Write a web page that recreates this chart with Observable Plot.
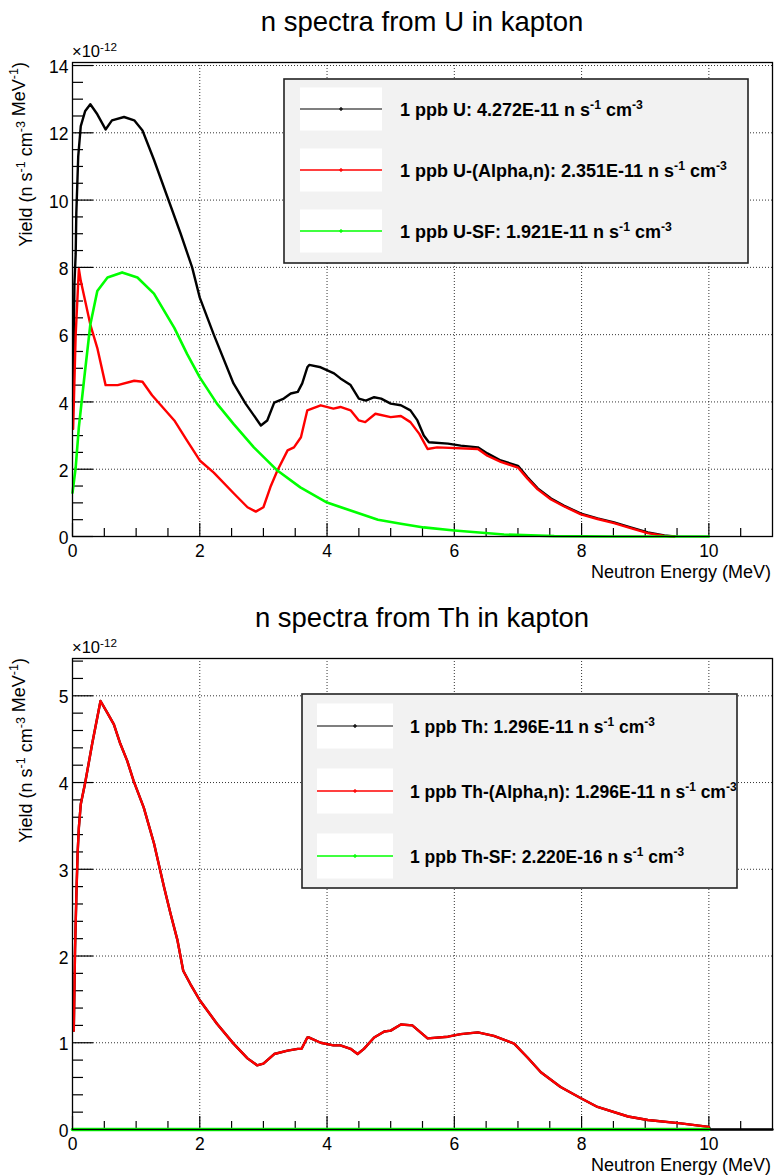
<!DOCTYPE html>
<html><head><meta charset="utf-8">
<script src="https://cdn.jsdelivr.net/npm/d3@7"></script>
<script src="https://cdn.jsdelivr.net/npm/@observablehq/plot@0.6"></script>
<style>
body{margin:0;background:#fff;font-family:"Liberation Sans",Arial,sans-serif;}
#wrap{width:774px;}
svg{display:block;}
</style></head><body><div id="wrap"></div>
<script>
// ---------- axis ticks ----------
const xMajor = [0, 2, 4, 6, 8, 10];
const xMinor = [0.5, 1, 1.5, 2.5, 3, 3.5, 4.5, 5, 5.5, 6.5, 7, 7.5, 8.5, 9, 9.5, 10.5];
const uYMajor = [0, 2, 4, 6, 8, 10, 12, 14];
const uYMinor = [0.5, 1, 1.5, 2.5, 3, 3.5, 4.5, 5, 5.5, 6.5, 7, 7.5, 8.5, 9, 9.5, 10.5, 11, 11.5, 12.5, 13, 13.5];
const thYMajor = [0, 1, 2, 3, 4, 5];
const thYMinor = [0.2, 0.4, 0.6, 0.8, 1.2, 1.4, 1.6, 1.8, 2.2, 2.4, 2.6, 2.8, 3.2, 3.4, 3.6, 3.8, 4.2, 4.4, 4.6, 4.8, 5.2, 5.4];

// ---------- U in kapton (values in 1e-12) ----------
const uTotalE = [0.01,0.03,0.05,0.06,0.09,0.13,0.2,0.28,0.39,0.52,0.62,0.81,0.97,1.1,1.28,1.49,1.7,1.88,2.0,2.22,2.53,2.72,2.96,3.06,3.17,3.32,3.43,3.54,3.61,3.69,3.72,3.9,4.11,4.21,4.37,4.5,4.61,4.74,4.85,5.0,5.16,5.31,5.42,5.52,5.6,5.9,6.1,6.37,6.52,6.73,7.0,7.15,7.31,7.52,7.72,7.99,8.25,8.51,8.77,9.04,9.3,9.46];
const uTotalY = [4.0,7.5,8.4,9.6,11.3,12.2,12.65,12.85,12.55,12.1,12.37,12.47,12.37,12.07,11.2,10.1,9.0,8.0,7.1,6.0,4.55,3.95,3.3,3.45,3.98,4.1,4.25,4.3,4.55,5.03,5.1,5.03,4.85,4.7,4.5,4.1,4.04,4.14,4.1,3.95,3.9,3.75,3.45,3.0,2.8,2.76,2.7,2.65,2.47,2.26,2.1,1.76,1.43,1.13,0.92,0.68,0.54,0.42,0.27,0.12,0.03,0];
const uAlphaE = [0.01,0.05,0.1,0.13,0.28,0.39,0.52,0.71,0.97,1.1,1.25,1.6,1.8,2.0,2.22,2.54,2.75,2.88,3.0,3.11,3.22,3.38,3.48,3.59,3.69,3.9,4.1,4.21,4.37,4.5,4.6,4.76,5.0,5.16,5.31,5.45,5.58,5.73,6.37,6.52,6.73,7.0,7.15,7.31,7.52,7.72,7.99,8.25,8.51,8.77,9.04,9.3,9.46];
const uAlphaY = [3.2,6.0,7.95,7.6,6.3,5.6,4.5,4.5,4.63,4.6,4.2,3.45,2.85,2.26,1.9,1.27,0.87,0.74,0.87,1.47,1.96,2.56,2.65,2.95,3.75,3.9,3.8,3.85,3.75,3.45,3.4,3.65,3.55,3.58,3.4,3.05,2.6,2.65,2.6,2.4,2.22,2.05,1.72,1.4,1.1,0.9,0.66,0.52,0.4,0.25,0.1,0.02,0];
const uSfE = [0,0.05,0.1,0.18,0.28,0.39,0.55,0.78,1.02,1.28,1.6,1.8,2.0,2.27,2.53,2.85,3.22,3.58,4.0,4.37,4.8,5.16,5.52,6.0,6.78,7.57,8.5,10.0];
const uSfY = [1.3,2.05,3.25,4.63,6.3,7.3,7.7,7.85,7.7,7.22,6.2,5.43,4.73,3.95,3.35,2.65,1.96,1.46,1.01,0.77,0.5,0.38,0.27,0.18,0.06,0.01,0,0];
const uLabels = ["1 ppb U: 4.272E-11", "1 ppb U-(Alpha,n): 2.351E-11", "1 ppb U-SF: 1.921E-11"];

// ---------- Th in kapton (values in 1e-12) ----------
const thTotalE = [0.02,0.03,0.04,0.05,0.06,0.08,0.1,0.13,0.2,0.31,0.44,0.55,0.65,0.75,0.86,0.96,1.12,1.28,1.44,1.54,1.65,1.74,1.85,2.0,2.27,2.53,2.75,2.9,3.0,3.17,3.38,3.54,3.6,3.69,3.72,3.9,4.1,4.21,4.37,4.48,4.58,4.74,4.9,5.0,5.16,5.34,5.58,5.9,6.1,6.37,6.62,6.94,7.15,7.36,7.67,7.99,8.25,8.73,9.04,9.56,10.0,10.02,11.0];
const thTotalY = [1.14,1.6,2.08,2.38,2.67,3.18,3.48,3.75,4.0,4.45,4.94,4.8,4.67,4.45,4.25,4.02,3.71,3.3,2.79,2.49,2.18,1.83,1.68,1.49,1.22,0.99,0.82,0.74,0.76,0.87,0.91,0.93,0.93,1.06,1.06,1.0,0.97,0.97,0.93,0.87,0.93,1.06,1.13,1.14,1.21,1.2,1.05,1.07,1.1,1.12,1.08,0.99,0.83,0.66,0.49,0.36,0.26,0.15,0.11,0.07,0.03,0,0];
const thAlphaE = [0.02,0.03,0.04,0.05,0.06,0.08,0.1,0.13,0.2,0.31,0.44,0.55,0.65,0.75,0.86,0.96,1.12,1.28,1.44,1.54,1.65,1.74,1.85,2.0,2.27,2.53,2.75,2.9,3.0,3.17,3.38,3.54,3.6,3.69,3.72,3.9,4.1,4.21,4.37,4.48,4.58,4.74,4.9,5.0,5.16,5.34,5.58,5.9,6.1,6.37,6.62,6.94,7.15,7.36,7.67,7.99,8.25,8.73,9.04,9.56,10.0];
const thAlphaY = [1.14,1.6,2.08,2.38,2.67,3.18,3.48,3.75,4.0,4.45,4.94,4.8,4.67,4.45,4.25,4.02,3.71,3.3,2.79,2.49,2.18,1.83,1.68,1.49,1.22,0.99,0.82,0.74,0.76,0.87,0.91,0.93,0.93,1.06,1.06,1.0,0.97,0.97,0.93,0.87,0.93,1.06,1.13,1.14,1.21,1.2,1.05,1.07,1.1,1.12,1.08,0.99,0.83,0.66,0.49,0.36,0.26,0.15,0.11,0.07,0.03];
const thSfE = [0, 2, 4, 6, 8, 10];
const thSfY = [0, 0, 0, 0, 0, 0];
const thLabels = ["1 ppb Th: 1.296E-11", "1 ppb Th-(Alpha,n): 1.296E-11", "1 ppb Th-SF: 2.220E-16"];

const colors = ["#000000", "#ff0000", "#00ff00"];
const FONT = '"Liberation Sans", Arial, Helvetica, sans-serif';

function sup(exp, size, shift) {
  return `<tspan dy="${-shift}" font-size="${size}">${exp}</tspan><tspan dy="${shift}">`;
}

function chart(cfg) {
  const W = 774, H = 588;
  const innerW = W - cfg.ml - cfg.mr, innerH = H - cfg.mt - cfg.mb;
  const grid = {stroke: "#000", strokeOpacity: 0.8, strokeDasharray: "1,2", strokeWidth: 1};
  const svg = Plot.plot({
    width: W, height: H,
    marginTop: cfg.mt, marginBottom: cfg.mb, marginLeft: cfg.ml, marginRight: cfg.mr,
    style: {fontFamily: FONT, background: "#fff", overflow: "visible"},
    x: {domain: [0, 11]},
    y: {domain: cfg.yDomain},
    marks: [
      Plot.gridX(xMajor, grid),
      Plot.gridY(cfg.yMajor, grid),
      Plot.tickY(cfg.yMajor, {insetRight: innerW - 21, stroke: "#000", strokeWidth: 1.2}),
      Plot.tickY(cfg.yMinor, {insetRight: innerW - 11, stroke: "#000", strokeWidth: 1.2}),
      Plot.tickX(xMajor, {insetTop: innerH - 13, stroke: "#000", strokeWidth: 1.2}),
      Plot.tickX(xMinor, {insetTop: innerH - 8, stroke: "#000", strokeWidth: 1.2}),
      Plot.axisX(xMajor, {tickSize: 0, tickPadding: 8, fontSize: 17.5, label: null, color: "#000", tickFormat: d => String(d)}),
      Plot.axisY(cfg.yMajor, {tickSize: 0, tickPadding: 4, fontSize: 17.5, label: null, color: "#000", tickFormat: d => String(d), dy: 2}),
      ...cfg.series.map((s, i) => Plot.line(s.e.map((e, j) => [e, s.v[j]]), {stroke: colors[i], strokeWidth: s.w})),
      Plot.frame({stroke: "#000", strokeWidth: 1.3})
    ]
  });
  const sel = d3.select(svg);
  const frameTop = cfg.mt, frameBottom = H - cfg.mb;
  const txt = () => sel.append("text").attr("fill", "#000").attr("text-anchor", "start");
  // title
  txt().attr("x", 422).attr("y", frameTop - 31).attr("text-anchor", "middle")
    .attr("font-size", 27.5).text(cfg.title);
  // exponent
  txt().attr("x", 72).attr("y", frameTop - 5).attr("font-size", 16.5)
    .html(`×10${sup("-12", 11.7, 6.5)}</tspan>`);
  // y label
  txt().attr("transform", `translate(32,${frameTop}) rotate(-90)`).attr("text-anchor", "end")
    .attr("font-size", 18)
    .html(`Yield (n s${sup("-1", 12.5, 7)} cm${sup("-3", 12.5, 7)}</tspan> MeV${sup("-1", 12.5, 7)})</tspan></tspan>`);
  // x label
  txt().attr("x", 771).attr("y", frameBottom + 42).attr("text-anchor", "end")
    .attr("font-size", 18).text("Neutron Energy (MeV)");
  // legend
  const L = cfg.leg;
  const g = sel.append("g");
  g.append("rect").attr("x", L.x0).attr("y", L.y0).attr("width", L.x1 - L.x0).attr("height", L.y1 - L.y0)
    .attr("fill", "#f2f2f2").attr("stroke", "#222").attr("stroke-width", 1.6);
  cfg.labels.forEach((lab, i) => {
    const cy = L.rows[i];
    g.append("rect").attr("x", L.sx0).attr("y", cy - L.sh / 2).attr("width", L.sx1 - L.sx0).attr("height", L.sh).attr("fill", "#fff");
    g.append("line").attr("x1", L.sx0).attr("x2", L.sx1).attr("y1", cy).attr("y2", cy)
      .attr("stroke", colors[i]).attr("stroke-width", i === 0 ? 1.2 : 1.6);
    const mx = (L.sx0 + L.sx1) / 2;
    g.append("path").attr("d", `M${mx - 2},${cy}H${mx + 2}M${mx},${cy - 2}V${cy + 2}`).attr("stroke", colors[i]).attr("stroke-width", 1.2);
    g.append("text").attr("x", L.tx).attr("y", cy + 7).attr("font-size", L.fs).attr("font-weight", "bold")
      .attr("fill", "#000").attr("text-anchor", "start")
      .html(`${lab} n s${sup("-1", L.fs * 0.68, 7)} cm${sup("-3", L.fs * 0.68, 7)}</tspan></tspan>`);
  });
  return svg;
}

const wrap = document.getElementById("wrap");
wrap.appendChild(chart({
  title: "n spectra from U in kapton",
  mt: 62, mb: 52, ml: 72, mr: 2,
  yDomain: [0, 14.09], yMajor: uYMajor, yMinor: uYMinor,
  series: [{e: uTotalE, v: uTotalY, w: 2.4}, {e: uAlphaE, v: uAlphaY, w: 2.4}, {e: uSfE, v: uSfY, w: 2.6}],
  labels: uLabels,
  leg: {x0: 284, x1: 748, y0: 79, y1: 263, sx0: 300, sx1: 382, sh: 43, rows: [109, 170, 231], tx: 400, fs: 18}
}));
wrap.appendChild(chart({
  title: "n spectra from Th in kapton",
  mt: 70, mb: 47, ml: 72, mr: 2,
  yDomain: [0, 5.43], yMajor: thYMajor, yMinor: thYMinor,
  series: [{e: thTotalE, v: thTotalY, w: 2.4}, {e: thAlphaE, v: thAlphaY, w: 2.4}, {e: thSfE, v: thSfY, w: 3.5}],
  labels: thLabels,
  leg: {x0: 302, x1: 737, y0: 106, y1: 300, sx0: 317, sx1: 393, sh: 45, rows: [138, 203, 268], tx: 410, fs: 17.5}
}));
</script>
</body></html>
